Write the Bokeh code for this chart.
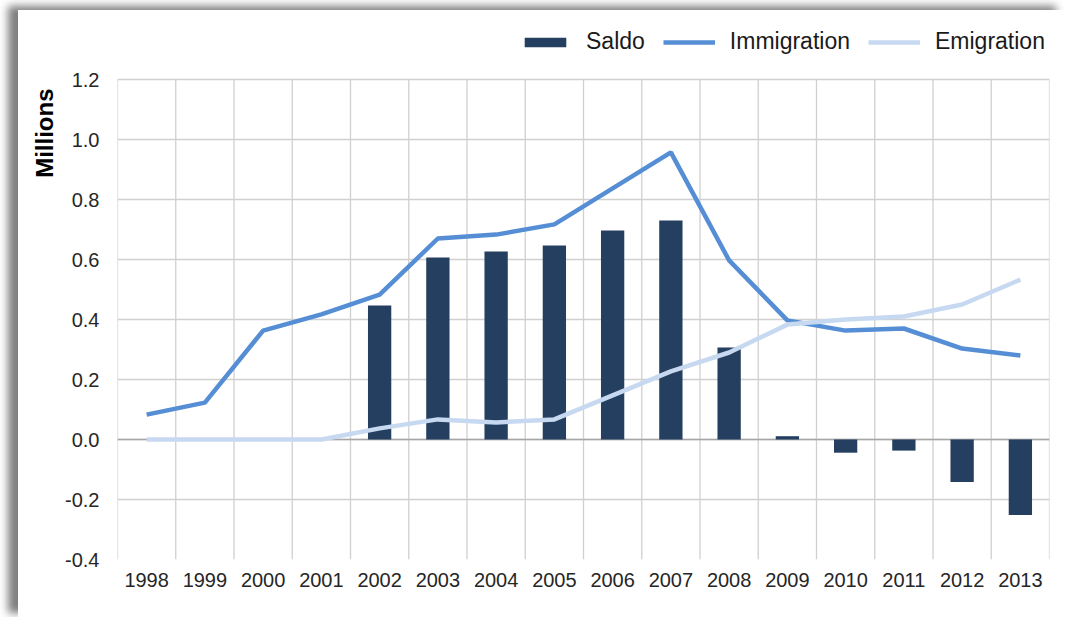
import numpy as np
from bokeh.plotting import figure
from bokeh.models import (ColumnDataSource, FixedTicker, Legend, LegendItem, Span,
                          NumeralTickFormatter, Title)
from bokeh.embed import file_html
from bokeh.resources import INLINE

years = ["1998", "1999", "2000", "2001", "2002", "2003", "2004", "2005",
         "2006", "2007", "2008", "2009", "2010", "2011", "2012", "2013"]
saldo = [None, None, None, None, 0.447, 0.607, 0.627, 0.647,
         0.697, 0.730, 0.307, 0.011, -0.044, -0.037, -0.142, -0.252]
immigration = [0.083, 0.123, 0.363, 0.417, 0.483, 0.670, 0.683, 0.717,
               0.837, 0.957, 0.597, 0.397, 0.363, 0.370, 0.303, 0.280]
emigration = [0.0, 0.0, 0.0, 0.0, 0.037, 0.067, 0.057, 0.067,
              0.147, 0.227, 0.290, 0.383, 0.400, 0.410, 0.450, 0.533]
y_ticks = [-0.4, -0.2, 0.0, 0.2, 0.4, 0.6, 0.8, 1.0, 1.2]

FONT = "Liberation Sans"
n = len(years)
idx = list(range(n))
src = ColumnDataSource(dict(
    x=idx,
    saldo=[np.nan if v is None else v for v in saldo],
    imm=immigration,
    emi=emigration,
))

# frame: data part spans 480px for 1.6 units; extra room on top for the legend
px_per_unit = 480 / (y_ticks[-1] - y_ticks[0])
top_extra = 69 / px_per_unit

p = figure(width=1048, height=607, output_backend="svg", toolbar_location=None,
           x_range=(-0.5, n - 0.5), y_range=(y_ticks[0], y_ticks[-1] + top_extra),
           min_border_left=99, min_border_top=0, min_border_bottom=58,
           min_border_right=17,
           styles={"margin-left": "18px", "margin-top": "10px",
                   "box-shadow": "-10px -4px 8px rgba(0,0,0,0.5)"})
p.outline_line_color = None
p.background_fill_color = "white"
p.border_fill_color = "white"

GRID = "#d0d0d0"
# horizontal grid
p.xgrid.visible = False
p.ygrid.ticker = FixedTicker(ticks=y_ticks)
p.ygrid.grid_line_color = GRID
p.ygrid.grid_line_width = 1.3
# vertical grid at category boundaries, limited to the value range
bounds = [i - 0.5 for i in range(n + 1)]
p.segment(x0=bounds, x1=bounds, y0=[y_ticks[0]] * len(bounds),
          y1=[y_ticks[-1]] * len(bounds), line_color=GRID, line_width=1.3,
          level="underlay")

# axes
p.xaxis.ticker = FixedTicker(ticks=idx)
p.xaxis.major_label_overrides = {i: y for i, y in enumerate(years)}
p.yaxis.ticker = FixedTicker(ticks=y_ticks)
p.yaxis.formatter = NumeralTickFormatter(format="0.0")
for ax in (p.xaxis, p.yaxis):
    ax.axis_line_color = None
    ax.major_tick_line_color = None
    ax.minor_tick_line_color = None
    ax.major_label_text_font = FONT
    ax.major_label_text_font_size = "20px"
    ax.major_label_text_color = "#262626"
p.xaxis.major_label_standoff = 7
p.yaxis.major_label_standoff = 12

ylab = Title(text="Millions", align="right", offset=78,
             text_font=FONT, text_font_size="24px", text_font_style="bold",
             text_color="#000000")
p.add_layout(ylab, "left")

zero = Span(location=0, dimension="width", line_color="#a6a6a6", line_width=1.5,
            level="underlay")
p.add_layout(zero)
bars = p.vbar(x="x", top="saldo", bottom=0, width=0.4, source=src,
              fill_color="#243f60", line_color=None)
l_imm = p.line("x", "imm", source=src, line_color="#558ed5", line_width=4.5)
l_emi = p.line("x", "emi", source=src, line_color="#c6d9f1", line_width=4.5)

legend = Legend(items=[LegendItem(label="Saldo", renderers=[bars]),
                       LegendItem(label="Immigration", renderers=[l_imm]),
                       LegendItem(label="Emigration", renderers=[l_emi])],
                orientation="horizontal", location=(402, 504),
                glyph_width=52, glyph_height=12, label_standoff=15, spacing=18,
                padding=0, margin=0, border_line_color=None,
                background_fill_alpha=0,
                label_text_font=FONT, label_text_font_size="23px",
                label_text_color="#1a1a1a")
p.add_layout(legend, "center")

open("out.html", "w").write(file_html(p, INLINE))
